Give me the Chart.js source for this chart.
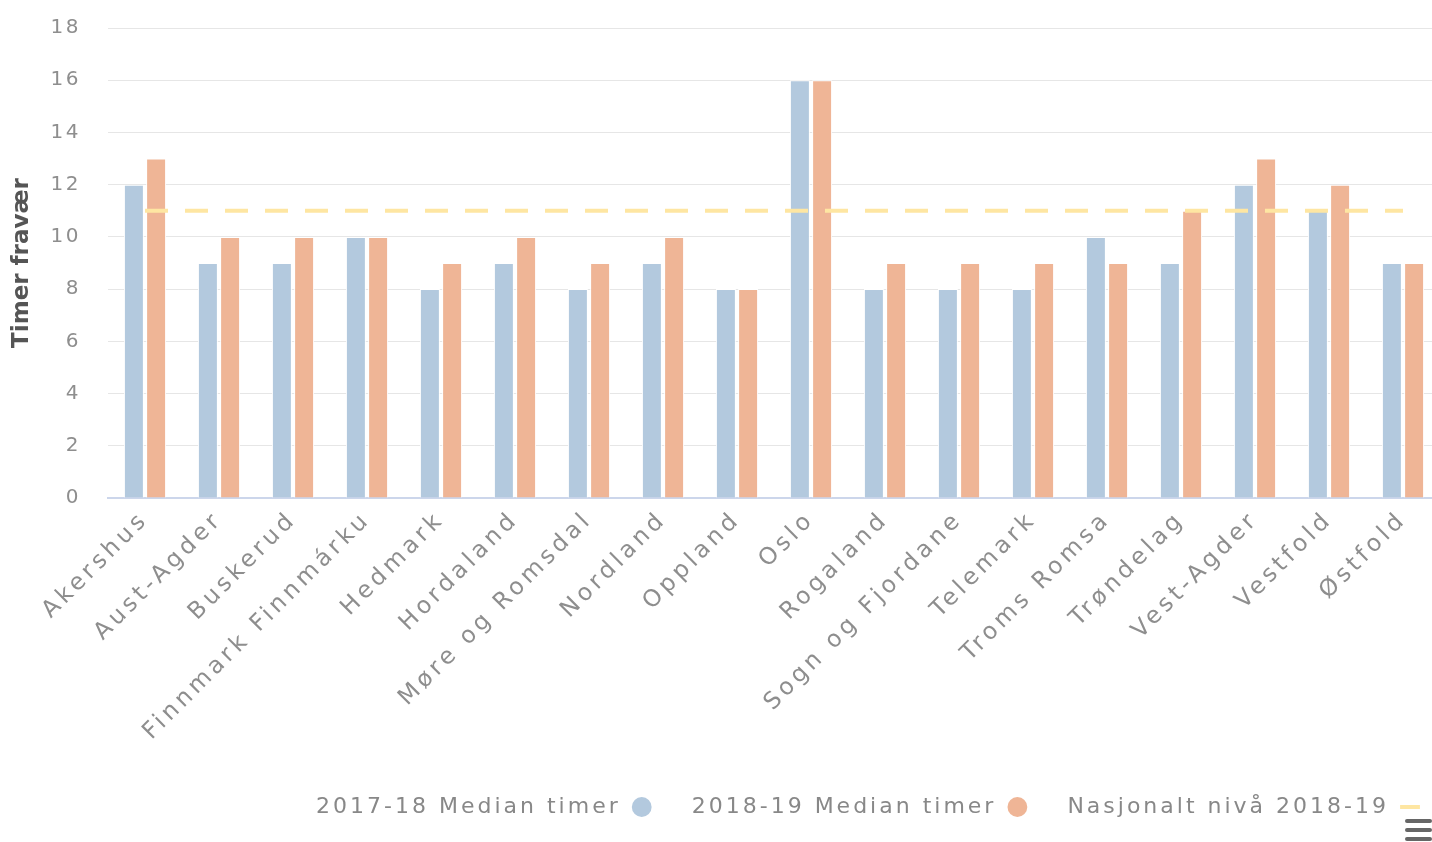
<!DOCTYPE html>
<html>
<head>
<meta charset="utf-8">
<script src="https://cdn.jsdelivr.net/npm/chart.js@4"></script>
<style>
  html, body { margin: 0; padding: 0; overflow: hidden; background: #ffffff; }
  #wrap { position: absolute; left: 0; top: 0; width: 1440px; height: 842px; }
  .burger { position: absolute; left: 1405px; width: 27px; height: 4px; background: #666666; border-radius: 2px; }
</style>
</head>
<body>
<div id="wrap"><canvas id="c" width="1440" height="842"></canvas></div>
<div class="burger" style="top:819px"></div>
<div class="burger" style="top:828px"></div>
<div class="burger" style="top:837px"></div>
<script>
const categories = ['Akershus', 'Aust-Agder', 'Buskerud', 'Finnmark Finnmárku', 'Hedmark', 'Hordaland',
  'Møre og Romsdal', 'Nordland', 'Oppland', 'Oslo', 'Rogaland', 'Sogn og Fjordane', 'Telemark',
  'Troms Romsa', 'Trøndelag', 'Vest-Agder', 'Vestfold', 'Østfold'];
const median2017 = [12, 9, 9, 10, 8, 9, 8, 9, 8, 16, 8, 8, 8, 10, 9, 12, 11, 9];
const median2018 = [13, 10, 10, 10, 9, 10, 9, 10, 8, 16, 9, 9, 9, 9, 11, 13, 12, 9];
const nasjonalt = [11, 11, 11, 11, 11, 11, 11, 11, 11, 11, 11, 11, 11, 11, 11, 11, 11, 11];
const seriesNames = ['2017-18 Median timer', '2018-19 Median timer', 'Nasjonalt nivå 2018-19'];
const yTicks = [0, 2, 4, 6, 8, 10, 12, 14, 16, 18];
const yTitle = 'Timer fravær';

const BLUE = '#b3c9de', ORANGE = '#efb596', YELLOW = '#fee6a2';
const FONT = '"DejaVu Sans", sans-serif';
const AREA_TOP = 28, AREA_BOTTOM = 498, AREA_LEFT = 108;

function wrapSpacing(obj, name, spacing) {
  if (!obj || !obj[name] || obj[name]._wrapped) return;
  const orig = obj[name];
  const f = function (...args) {
    const c = this.ctx;
    const prev = c.letterSpacing;
    c.letterSpacing = spacing;
    try { return orig.apply(this, args); } finally { c.letterSpacing = prev; }
  };
  f._wrapped = true;
  obj[name] = f;
}

const spacingPlugin = {
  id: 'spacing',
  beforeLayout(chart) {
    wrapSpacing(chart.legend, 'fit', '3px');
    wrapSpacing(chart.legend, 'draw', '3px');
  },
  afterLayout(chart) {
    wrapSpacing(chart.scales.x, 'drawLabels', '4px');
    wrapSpacing(chart.scales.y, 'drawLabels', '2.5px');
    const lg = chart.legend;
    if (lg) {
      const dx = 20, dy = -14;
      lg.left += dx; lg.right += dx;
      lg.top += dy; lg.bottom += dy;
    }
  }
};

new Chart(document.getElementById('c'), {
  data: {
    labels: categories,
    datasets: [
      { type: 'bar', label: seriesNames[0], data: median2017, backgroundColor: BLUE,
        borderColor: '#ffffff', borderWidth: 1, categoryPercentage: 0.6, barPercentage: 0.9 },
      { type: 'bar', label: seriesNames[1], data: median2018, backgroundColor: ORANGE,
        borderColor: '#ffffff', borderWidth: 1, categoryPercentage: 0.6, barPercentage: 0.9 },
      { type: 'line', label: seriesNames[2], data: nasjonalt, borderColor: YELLOW, backgroundColor: YELLOW,
        borderWidth: 4, borderDash: [23, 17], pointRadius: 0, pointHoverRadius: 0, fill: false,
        pointStyle: 'line', order: -1 }
    ]
  },
  options: {
    responsive: false,
    animation: false,
    devicePixelRatio: 1,
    layout: { padding: { top: AREA_TOP, left: 0, right: 0, bottom: 0 } },
    scales: {
      x: {
        grid: { display: false, drawTicks: false },
        border: { display: true, color: '#ccd6eb', width: 2 },
        ticks: {
          autoSkip: false, minRotation: 45, maxRotation: 45, padding: 8,
          color: '#8e8e8e', font: { family: FONT, size: 23.5 }
        },
        afterFit: (s) => {
          const lh = s.chart.legend ? s.chart.legend.height : 0;
          s.height = s.chart.height - AREA_BOTTOM - lh;
        }
      },
      y: {
        min: 0, max: 18,
        afterBuildTicks: (s) => { s.ticks = yTicks.map(v => ({ value: v })); },
        grid: { color: '#e6e6e6', lineWidth: 1, drawTicks: false },
        border: { display: false },
        ticks: { padding: 27, color: '#8e8e8e', font: { family: FONT, size: 20 } },
        title: {
          display: true, text: yTitle, color: '#555555',
          font: { family: FONT, size: 23, weight: 'bold' },
          padding: { top: 8, bottom: 0 }
        },
        afterFit: (s) => { s.width = AREA_LEFT; s.paddingTop = 0; s.paddingBottom = 0; }
      }
    },
    plugins: {
      tooltip: { enabled: false },
      legend: {
        position: 'bottom',
        align: 'start',
        rtl: true,
        textDirection: 'ltr',
        labels: {
          usePointStyle: true,
          boxWidth: 20,
          boxHeight: 14,
          padding: 40,
          color: '#888888',
          font: { family: FONT, size: 22 },
          sort: (a, b) => b.datasetIndex - a.datasetIndex,
          generateLabels: (chart) => {
            const items = Chart.defaults.plugins.legend.labels.generateLabels(chart);
            items.forEach(it => {
              if (it.datasetIndex === 2) {
                it.pointStyle = 'line'; it.lineDash = []; it.lineWidth = 4;
                it.strokeStyle = YELLOW; it.fillStyle = YELLOW;
              } else {
                it.pointStyle = 'circle'; it.lineWidth = 0;
              }
            });
            return items;
          }
        }
      }
    }
  },
  plugins: [spacingPlugin]
});
</script>
</body>
</html>
